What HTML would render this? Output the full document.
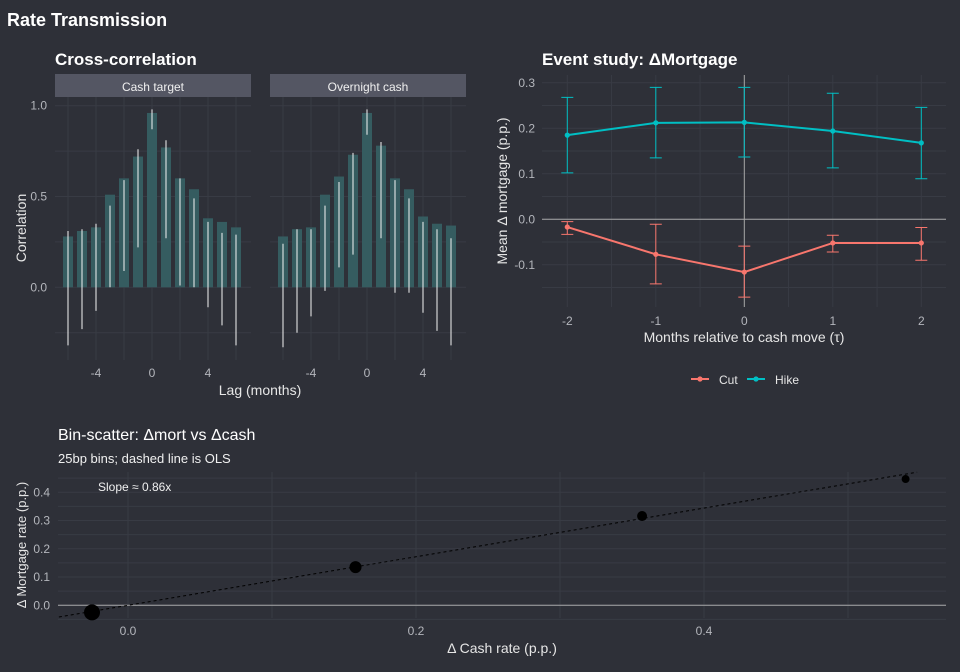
<!DOCTYPE html>
<html><head><meta charset="utf-8"><style>
body{margin:0;background:#2e3038;}
svg{display:block;font-family:"Liberation Sans",sans-serif;}
</style></head><body>
<svg id="c" width="960" height="672" viewBox="0 0 960 672">
<rect width="960" height="672" fill="#2e3038"/>
<text x="7" y="26" fill="#ffffff" font-size="18" font-weight="bold">Rate Transmission</text>
<text x="55" y="65" fill="#ffffff" font-size="17" font-weight="bold">Cross-correlation</text>
<text x="542" y="65" fill="#ffffff" font-size="17" font-weight="bold">Event study: ΔMortgage</text>
<g id="g1"></g>
<g id="g2"></g>
<g id="g3"></g>
</svg>
<script>
// ---- Cross-correlation data ----
const lags=[-6,-5,-4,-3,-2,-1,0,1,2,3,4,5,6];
const facets=["Cash target","Overnight cash"];
const corrCash=[0.28,0.31,0.33,0.51,0.60,0.72,0.96,0.77,0.60,0.54,0.38,0.36,0.33];
const hiCash=[0.31,0.32,0.35,0.45,0.59,0.76,0.98,0.81,0.60,0.49,0.36,0.30,0.29];
const loCash=[-0.32,-0.23,-0.13,0.00,0.09,0.22,0.87,0.27,0.01,0.00,-0.11,-0.21,-0.32];
const corrOn=[0.28,0.32,0.33,0.51,0.61,0.73,0.96,0.78,0.60,0.54,0.39,0.35,0.34];
const hiOn=[0.24,0.32,0.32,0.45,0.58,0.74,0.98,0.80,0.59,0.49,0.36,0.32,0.27];
const loOn=[-0.33,-0.25,-0.16,-0.02,0.11,0.18,0.84,0.27,-0.03,-0.03,-0.14,-0.24,-0.32];
const corrTicks=[0,0.5,1.0];
const lagTicks=[-4,0,4];
// ---- Event study data ----
const tau=[-2,-1,0,1,2];
const hikeMean=[0.185,0.212,0.213,0.194,0.168];
const hikeLo=[0.102,0.135,0.137,0.113,0.089];
const hikeHi=[0.268,0.290,0.290,0.277,0.246];
const cutMean=[-0.017,-0.077,-0.116,-0.052,-0.052];
const cutLo=[-0.033,-0.142,-0.171,-0.072,-0.090];
const cutHi=[-0.005,-0.011,-0.059,-0.035,-0.018];
const esTicks=[-0.1,0,0.1,0.2,0.3];
// ---- Bin scatter data ----
const binX=[-0.025,0.158,0.357,0.540];
const binY=[-0.025,0.135,0.316,0.447];
const binN=[8,6,5,4];
const olsSlope=0.86, olsIntercept=0.0;
const bsXTicks=[0,0.2,0.4];
const bsYTicks=[0,0.1,0.2,0.3,0.4];

const NS="http://www.w3.org/2000/svg";
function mk(parent,tag,attrs,text){const e=document.createElementNS(NS,tag);for(const k in attrs)e.setAttribute(k,attrs[k]);if(text!==undefined)e.textContent=text;parent.appendChild(e);return e;}
const GRID="#383b44", TICK="#b4b6bc", LAB="#e6e6e6", TF=12;
function fmt1(v){return v.toFixed(1);}

// ===== Cross-correlation =====
const g1=document.getElementById('g1');
const cy=v=>287.3-v*181.6;
const facetX0=[152,367];
const series=[[corrCash,hiCash,loCash],[corrOn,hiOn,loOn]];
facets.forEach((f,fi)=>{
  const left=fi==0?55:270, right=left+196;
  const cx=l=>facetX0[fi]+l*14;
  const s=mk(g1,'rect',{x:left,y:74,width:196,height:23,fill:'#545663'});
  
  const st=mk(g1,'text',{x:left+98,y:91,fill:'#f0f0f0','font-size':12,'text-anchor':'middle'},f);
  
  [-0.25,0,0.25,0.5,0.75,1.0].forEach(v=>{const l=mk(g1,'line',{x1:left,x2:right,y1:cy(v),y2:cy(v),stroke:GRID,'stroke-width':1});});
  [-6,-4,-2,0,2,4,6].forEach(v=>{const l=mk(g1,'line',{x1:cx(v),x2:cx(v),y1:97,y2:360,stroke:GRID,'stroke-width':1});});
  const [m,hi,lo]=series[fi];
  lags.forEach((l,i)=>{
    const b=mk(g1,'rect',{x:cx(l)-5,width:10,y:Math.min(cy(m[i]),cy(0)),height:Math.abs(cy(m[i])-cy(0)),fill:'#355c60'});
    
    const e=mk(g1,'line',{x1:cx(l),x2:cx(l),y1:cy(hi[i]),y2:cy(lo[i]),stroke:'#f4f4f4','stroke-width':1});
    
  });
  lagTicks.forEach(t=>{const tx=mk(g1,'text',{x:cx(t),y:377,fill:TICK,'font-size':TF,'text-anchor':'middle'},String(t));});
});
corrTicks.forEach(t=>{const tx=mk(g1,'text',{x:47,y:cy(t)+4,fill:TICK,'font-size':TF,'text-anchor':'end'},fmt1(t));});
let t1=mk(g1,'text',{x:260,y:395,fill:LAB,'font-size':14,'text-anchor':'middle'},'Lag (months)');

t1=mk(g1,'text',{x:0,y:0,fill:LAB,'font-size':14,'text-anchor':'middle',transform:'translate(26,228) rotate(-90)'},'Correlation');


// ===== Event study =====
const g2=document.getElementById('g2');
const ex=v=>744.3+v*88.5, ey=v=>219.3-v*455;
const L=542,R=946,T=75,B=307;
[-0.15,-0.1,-0.05,0,0.05,0.1,0.15,0.2,0.25,0.3].forEach(v=>{const l=mk(g2,'line',{x1:L,x2:R,y1:ey(v),y2:ey(v),stroke:GRID});});
[-2,-1.5,-1,-0.5,0.5,1,1.5,2].forEach(v=>{const l=mk(g2,'line',{x1:ex(v),x2:ex(v),y1:T,y2:B,stroke:GRID});});
let z=mk(g2,'line',{x1:L,x2:R,y1:ey(0),y2:ey(0),stroke:'#a8a8a8'});
z=mk(g2,'line',{x1:ex(0),x2:ex(0),y1:T,y2:B,stroke:'#a8a8a8'});
function drawSeries(mean,lo,hi,col,name){
  tau.forEach((t,i)=>{
    const e=mk(g2,'path',{d:`M${ex(t)-6},${ey(hi[i])}H${ex(t)+6}M${ex(t)},${ey(hi[i])}V${ey(lo[i])}M${ex(t)-6},${ey(lo[i])}H${ex(t)+6}`,stroke:col,fill:'none','stroke-width':1});
    
  });
  const p=mk(g2,'polyline',{points:tau.map((t,i)=>ex(t)+','+ey(mean[i])).join(' '),stroke:col,fill:'none','stroke-width':2});
  
  tau.forEach((t,i)=>{const c=mk(g2,'circle',{cx:ex(t),cy:ey(mean[i]),r:2.6,fill:col});});
}
drawSeries(hikeMean,hikeLo,hikeHi,'#00bfc4','hike');
drawSeries(cutMean,cutLo,cutHi,'#f8766d','cut');
esTicks.forEach(t=>{const tx=mk(g2,'text',{x:535,y:ey(t)+4,fill:TICK,'font-size':TF,'text-anchor':'end'},fmt1(t));});
tau.forEach(t=>{const tx=mk(g2,'text',{x:ex(t),y:325,fill:TICK,'font-size':TF,'text-anchor':'middle'},String(t));});
t1=mk(g2,'text',{x:744,y:342,fill:LAB,'font-size':14,'text-anchor':'middle'},'Months relative to cash move (τ)');

t1=mk(g2,'text',{x:0,y:0,fill:LAB,'font-size':14,'text-anchor':'middle',transform:'translate(507,191) rotate(-90)'},'Mean Δ mortgage (p.p.)');

[['Cut','#f8766d',691],['Hike','#00bfc4',747]].forEach(([n,c,x])=>{
  const g=mk(g2,'g',{});
  mk(g,'line',{x1:x,x2:x+18,y1:379,y2:379,stroke:c,'stroke-width':2});
  mk(g,'circle',{cx:x+9,cy:379,r:2.6,fill:c});
  mk(g,'text',{x:x+28,y:384,fill:LAB,'font-size':12},n);
});

// ===== Bin scatter =====
const g3=document.getElementById('g3');
const bx=v=>128+v*1440, by=v=>605.3-v*282.5;
const L3=58,R3=946,T3=472,B3=618;
t1=mk(g3,'text',{x:58,y:440,fill:'#ffffff','font-size':16},'Bin-scatter: Δmort vs Δcash');

t1=mk(g3,'text',{x:58,y:463,fill:'#f0f0f0','font-size':13},'25bp bins; dashed line is OLS');

[-0.05,0,0.05,0.1,0.15,0.2,0.25,0.3,0.35,0.4,0.45].forEach(v=>{const l=mk(g3,'line',{x1:L3,x2:R3,y1:by(v),y2:by(v),stroke:GRID});});
[0,0.1,0.2,0.3,0.4,0.5].forEach(v=>{const l=mk(g3,'line',{x1:bx(v),x2:bx(v),y1:T3,y2:B3,stroke:GRID});});
z=mk(g3,'line',{x1:L3,x2:R3,y1:by(0),y2:by(0),stroke:'#a8a8a8'});
const xa=-0.048,xb=0.548;
z=mk(g3,'line',{x1:bx(xa),y1:by(olsIntercept+olsSlope*xa),x2:bx(xb),y2:by(olsIntercept+olsSlope*xb),stroke:'#000','stroke-width':1,'stroke-dasharray':'3,3'});

binX.forEach((v,i)=>{const c=mk(g3,'circle',{cx:bx(v),cy:by(binY[i]),r:binN[i],fill:'#000'});});
t1=mk(g3,'text',{x:98,y:491,fill:'#f0f0f0','font-size':12},'Slope ≈ 0.86x');

bsYTicks.forEach(t=>{const tx=mk(g3,'text',{x:50,y:by(t)+4,fill:TICK,'font-size':TF,'text-anchor':'end'},fmt1(t));});
bsXTicks.forEach(t=>{const tx=mk(g3,'text',{x:bx(t),y:635,fill:TICK,'font-size':TF,'text-anchor':'middle'},fmt1(t));});
t1=mk(g3,'text',{x:502,y:653,fill:LAB,'font-size':14,'text-anchor':'middle'},'Δ Cash rate (p.p.)');

t1=mk(g3,'text',{x:0,y:0,fill:LAB,'font-size':13,'text-anchor':'middle',transform:'translate(26,545) rotate(-90)'},'Δ Mortgage rate (p.p.)');

</script>
</body></html>
